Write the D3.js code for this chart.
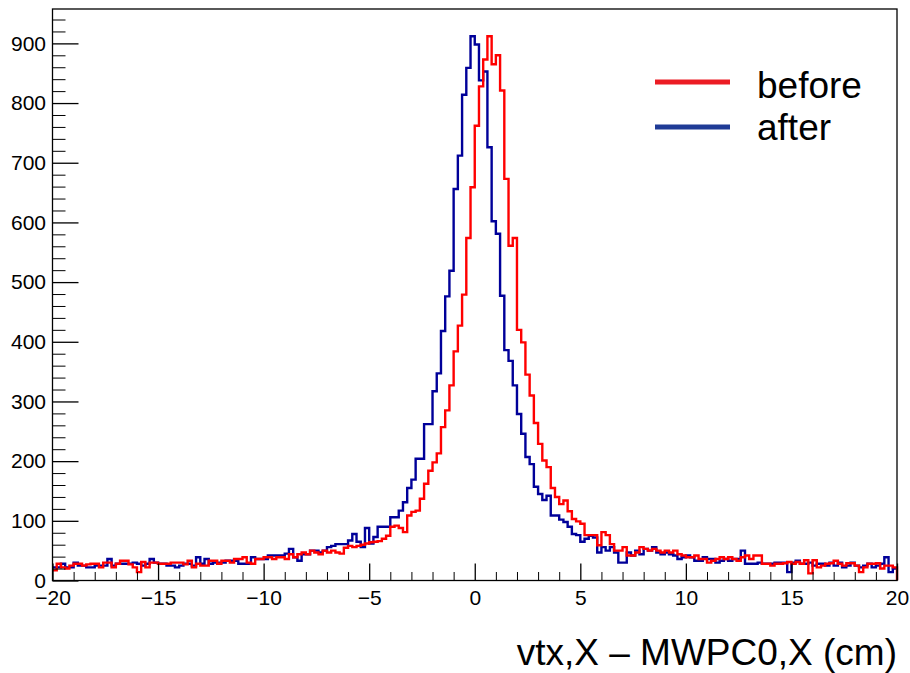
<!DOCTYPE html>
<html>
<head>
<meta charset="utf-8">
<script src="https://cdn.jsdelivr.net/npm/d3@7"></script>
<style>
  body { margin: 0; background: #fff; }
  text { font-family: "Liberation Sans", Arial, Helvetica, sans-serif; }
</style>
</head>
<body>
<div id="roott"></div>
<script>
// DIMENSIONS
let widthh = 910,
    heightt = 673;
let frameLeft = 52.5, frameRight = 897, frameTop = 9, frameBottom = 580.5;

// histogram binning: 200 bins from -20 to 20
let xMin = -20, xMax = 20, nBins = 200;
let binEdges = d3.range(nBins + 1).map((i) => xMin + (xMax - xMin) * i / nBins);

// bin contents, "after" (blue)
let afterCounts = [
  22, 22, 28, 22, 22, 30, 25, 25, 22, 22, 25, 25, 25, 36, 25, 28, 28, 28, 28, 30,
  28, 25, 28, 36, 30, 28, 28, 25, 25, 22, 25, 28, 28, 25, 39, 28, 36, 28, 30, 30,
  30, 33, 33, 33, 28, 28, 28, 39, 36, 36, 36, 42, 42, 42, 42, 45, 53, 39, 33, 44,
  44, 50, 50, 47, 50, 56, 58, 61, 61, 61, 67, 78, 65, 56, 88, 62, 73, 90, 90, 90,
  106, 106, 117, 131, 155, 169, 204, 204, 262, 262, 317, 347, 418, 476, 519, 656, 712, 814, 859, 912,
  898, 838, 853, 726, 602, 581, 477, 386, 368, 327, 279, 246, 207, 195, 157, 145, 135, 142, 109, 109,
  102, 98, 90, 78, 76, 65, 70, 75, 72, 47, 56, 50, 56, 47, 30, 30, 47, 42, 50, 44,
  53, 50, 56, 47, 44, 47, 44, 42, 36, 39, 42, 39, 33, 33, 39, 36, 36, 30, 33, 36,
  33, 36, 36, 50, 28, 28, 28, 30, 28, 28, 28, 30, 30, 30, 14, 30, 33, 28, 28, 30,
  25, 28, 28, 25, 30, 25, 30, 22, 25, 30, 25, 22, 25, 28, 22, 25, 28, 39, 14, 20
];

// bin contents, "before" (red)
let beforeCounts = [
  17, 28, 22, 20, 25, 28, 28, 25, 27, 28, 28, 22, 30, 30, 22, 28, 33, 33, 27, 22,
  14, 31, 22, 30, 30, 28, 28, 28, 30, 30, 30, 27, 33, 22, 28, 25, 25, 33, 33, 28,
  33, 33, 30, 36, 36, 39, 30, 28, 36, 36, 39, 39, 36, 39, 39, 36, 44, 39, 44, 47,
  44, 50, 47, 44, 50, 47, 50, 47, 45, 55, 58, 56, 58, 60, 62, 64, 65, 66, 70, 75,
  90, 92, 88, 81, 109, 115, 117, 137, 162, 184, 198, 213, 257, 285, 327, 384, 427, 479, 574, 659,
  762, 828, 873, 912, 865, 880, 821, 673, 561, 574, 420, 399, 345, 310, 264, 229, 201, 190, 155, 140,
  128, 134, 116, 103, 99, 95, 76, 76, 76, 59, 81, 76, 61, 50, 50, 56, 42, 42, 47, 56,
  53, 50, 53, 50, 47, 50, 47, 50, 44, 42, 39, 39, 42, 36, 36, 30, 33, 36, 39, 36,
  39, 36, 33, 39, 42, 36, 42, 42, 28, 28, 25, 28, 28, 29, 31, 28, 31, 28, 34, 12,
  34, 22, 25, 28, 29, 33, 28, 25, 29, 29, 25, 14, 22, 28, 28, 29, 20, 25, 25, 22
];

let seriesNames = ['before', 'after'];
let seriesColors = { before: '#ff0000', after: '#000099' };
let legendColors = { before: '#ec1c24', after: '#1f3b96' };

let xTicksMajor = [-20, -15, -10, -5, 0, 5, 10, 15, 20];
let yTicksMajor = [0, 100, 200, 300, 400, 500, 600, 700, 800, 900];
let xTitle = 'vtx,X \u2013 MWPC0,X (cm)';

let yMax = 1.05 * d3.max([...afterCounts, ...beforeCounts]);

let svg = d3
  .select('#roott')
  .append('svg')
  .attr('width', widthh)
  .attr('height', heightt)
  .style('background-color', '#fff');

//Scales
let xScale = d3.scaleLinear().domain([xMin, xMax]).range([frameLeft, frameRight]);
let yScale = d3.scaleLinear().domain([0, yMax]).range([frameBottom, frameTop]);

svg.append('clipPath').attr('id', 'frameClip')
  .append('rect')
  .attr('x', frameLeft).attr('y', frameTop - 2)
  .attr('width', frameRight - frameLeft + 2).attr('height', frameBottom - frameTop + 2);

// step lines
function histPoints(counts, dropAtEnd) {
  let pts = counts.map((c, i) => [binEdges[i], c]);
  pts.push([xMax, counts[counts.length - 1]]);
  if (dropAtEnd) pts.push([xMax, 0]);
  return pts;
}

let stepLine = d3.line()
  .x((d) => xScale(d[0]))
  .y((d) => yScale(d[1]))
  .curve(d3.curveStepAfter);

let plotArea = svg.append('g').attr('clip-path', 'url(#frameClip)');

plotArea.append('path')
  .datum(histPoints(afterCounts, false))
  .attr('fill', 'none')
  .attr('stroke', seriesColors.after)
  .attr('stroke-width', 2.4)
  .attr('d', stepLine);

plotArea.append('path')
  .datum(histPoints(beforeCounts, true))
  .attr('fill', 'none')
  .attr('stroke', seriesColors.before)
  .attr('stroke-width', 2.4)
  .attr('d', stepLine);

// frame
svg.append('rect')
  .attr('x', frameLeft).attr('y', frameTop)
  .attr('width', frameRight - frameLeft).attr('height', frameBottom - frameTop)
  .attr('fill', 'none')
  .attr('stroke', '#000')
  .attr('stroke-width', 1.3);

// X axis, ticks pointing up into the frame
let xMinor = d3.range(xMin, xMax + 0.001, 1).filter((v) => !xTicksMajor.includes(v));
svg.append('g')
  .attr('transform', `translate(0, ${frameBottom})`)
  .call(d3.axisBottom(xScale).tickValues(xMinor).tickFormat('').tickSizeInner(-8.5).tickSizeOuter(0))
  .call((g) => g.select('.domain').remove());

svg.append('g')
  .attr('transform', `translate(0, ${frameBottom})`)
  .style('font-size', '21px')
  .call(d3.axisBottom(xScale).tickValues(xTicksMajor).tickSizeInner(-17).tickSizeOuter(0).tickPadding(10))
  .call((g) => g.select('.domain').remove())
  .call((g) => g.selectAll('line').attr('stroke-width', 1.3))
  .call((g) => g.selectAll('text').attr('fill', '#000').style('font-family', '"Liberation Sans", Arial, sans-serif'));

// Y axis
let yMinor = d3.range(0, yMax, 20).filter((v) => v % 100 !== 0);
svg.append('g')
  .attr('transform', `translate(${frameLeft}, 0)`)
  .call(d3.axisLeft(yScale).tickValues(yMinor).tickFormat('').tickSizeInner(-13).tickSizeOuter(0))
  .call((g) => g.select('.domain').remove());

svg.append('g')
  .attr('transform', `translate(${frameLeft}, 0)`)
  .style('font-size', '21px')
  .call(d3.axisLeft(yScale).tickValues(yTicksMajor).tickSizeInner(-26).tickSizeOuter(0).tickPadding(6.5))
  .call((g) => g.select('.domain').remove())
  .call((g) => g.selectAll('line').attr('stroke-width', 1.3))
  .call((g) => g.selectAll('text').attr('fill', '#000').style('font-family', '"Liberation Sans", Arial, sans-serif'));

// axis title
svg.append('text')
  .attr('x', frameRight)
  .attr('y', 665)
  .attr('text-anchor', 'end')
  .style('font-size', '37px')
  .style('fill', '#000')
  .text(xTitle);

// legend
let legendRows = [
  { name: 'before', y: 82, baseline: 98 },
  { name: 'after', y: 127, baseline: 140 }
];
legendRows.forEach((row) => {
  svg.append('line')
    .attr('x1', 655).attr('x2', 730)
    .attr('y1', row.y).attr('y2', row.y)
    .attr('stroke', legendColors[row.name])
    .attr('stroke-width', 5);
  svg.append('text')
    .attr('x', 757)
    .attr('y', row.baseline)
    .style('font-size', '37px')
    .style('fill', '#000')
    .text(row.name);
});
</script>
</body>
</html>
